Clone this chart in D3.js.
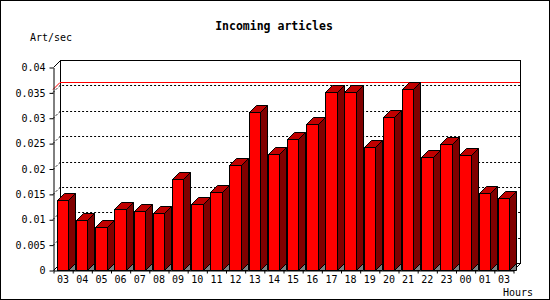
<!DOCTYPE html>
<html lang="en">
<head>
    <meta charset="UTF-8">
    <title>Incoming articles</title>
    <script src="https://cdnjs.cloudflare.com/ajax/libs/d3/7.8.5/d3.min.js"></script>
    <style>
        body { margin: 0; background: #fff; }
        svg { display: block; }
        text { font-family: "DejaVu Sans Mono", monospace; fill: #000; }
    </style>
</head>
<body>
<svg width="550" height="300"></svg>

<script>
    // hour labels as shown on the chart (the last one really reads "03")
    const hours = ["03", "04", "05", "06", "07", "08", "09", "10", "11", "12", "13", "14",
                   "15", "16", "17", "18", "19", "20", "21", "22", "23", "00", "01", "03"];
    // articles per second
    const artPerSec = [0.0137, 0.0098, 0.0084, 0.0120, 0.0117, 0.0112, 0.0180, 0.0131,
                       0.0153, 0.0206, 0.0311, 0.0228, 0.0259, 0.0287, 0.0350, 0.0350,
                       0.0242, 0.0301, 0.0356, 0.0222, 0.0249, 0.0226, 0.0151, 0.0141];
    const yTicks = [0, 0.005, 0.01, 0.015, 0.02, 0.025, 0.03, 0.035, 0.04];
    const gridTicks = [0.005, 0.01, 0.015, 0.02, 0.025, 0.03, 0.035];

    const svg = d3.select("svg");
    const depth = 7; // 3d offset, same in x and y

    const x0 = 53, x1 = 513, yBottom = 270, yTop = 67;

    const x = d3.scaleBand()
        .domain(d3.range(hours.length))
        .range([x0, x1])
        .paddingInner(0.4)
        .paddingOuter(0.2);

    const xEdges = d3.scaleLinear().domain([0, hours.length]).range([x0, x1]);

    const y = d3.scaleLinear().domain([0, 0.04]).range([yBottom, yTop]);

    // outer border
    svg.append("rect")
        .attr("x", 0.5).attr("y", 0.5)
        .attr("width", 549).attr("height", 299)
        .attr("fill", "none").attr("stroke", "#000");

    // back wall
    const back = svg.append("g").attr("transform", `translate(${depth},${-depth})`);
    back.append("rect")
        .attr("x", x0 + 0.5).attr("y", y(0.04) + 0.5)
        .attr("width", x1 - x0).attr("height", y(0) - y(0.04))
        .attr("fill", "#fff").attr("stroke", "#000");

    // dotted grid lines on the wall, plus the little slants on the left side
    svg.append("g")
        .selectAll("path")
        .data(gridTicks)
        .join("path")
        .attr("d", d => {
            const yy = Math.round(y(d)) + 0.5;
            return `M${x0},${yy}L${x0 + depth},${yy - depth}L${x1 + depth},${yy - depth}`;
        })
        .attr("fill", "none")
        .attr("stroke", "#000")
        .attr("stroke-dasharray", "2,2");

    // red line at the maximum value
    const maxVal = d3.max(artPerSec);
    const ym = Math.round(y(maxVal)) + 0.5;
    svg.append("path")
        .attr("d", `M${x0},${ym}L${x0 + depth},${ym - depth}L${x1 + depth},${ym - depth}`)
        .attr("fill", "none")
        .attr("stroke", "#ff0000");

    // floor edges
    svg.append("path")
        .attr("d", `M${x0 + 0.5},${yTop + 0.5}L${x0 + depth + 0.5},${yTop - depth + 0.5}` +
                   `M${x0 + 0.5},${yBottom + 0.5}L${x0 + depth + 0.5},${yBottom - depth + 0.5}` +
                   `M${x1 + 0.5},${yBottom + 0.5}L${x1 + depth + 0.5},${yBottom - depth + 0.5}`)
        .attr("fill", "none")
        .attr("stroke", "#000");

    // bars
    const bars = svg.append("g")
        .selectAll("g")
        .data(artPerSec)
        .join("g");

    bars.each(function (d, i) {
        const g = d3.select(this);
        const bx0 = Math.round(x(i)) + 0.5;
        const bx1 = Math.round(x(i) + x.bandwidth()) + 0.5;
        const top = Math.round(y(d)) + 0.5;
        const bot = yBottom + 0.5;

        g.append("path") // shadow triangle on the floor
            .attr("d", `M${bx1},${bot}L${bx1 + depth},${bot - depth}L${bx1 + depth},${bot}Z`)
            .attr("fill", "#808080").attr("stroke", "#000");
        g.append("path") // side
            .attr("d", `M${bx1},${top}L${bx1 + depth},${top - depth}L${bx1 + depth},${bot - depth}L${bx1},${bot}Z`)
            .attr("fill", "#800000").attr("stroke", "#000");
        g.append("path") // top
            .attr("d", `M${bx0},${top}L${bx0 + depth},${top - depth}L${bx1 + depth},${top - depth}L${bx1},${top}Z`)
            .attr("fill", "#c00000").attr("stroke", "#000");
        g.append("rect") // front
            .attr("x", bx0).attr("y", top)
            .attr("width", bx1 - bx0).attr("height", bot - top)
            .attr("fill", "#ff0000").attr("stroke", "#000");
    });

    // y axis
    const yAxis = svg.append("g")
        .attr("transform", `translate(${x0 + 0.5},0.5)`)
        .call(d3.axisLeft(y)
            .tickValues(yTicks)
            .tickSize(4)
            .tickPadding(4)
            .tickSizeOuter(0)
            .tickFormat(d => d === 0 ? "0" : d3.format(".3~f")(d)));
    yAxis.select(".domain").attr("stroke", "#000");
    yAxis.selectAll("line").attr("stroke", "#000");
    yAxis.selectAll("text").attr("font-size", 10).attr("font-family", "DejaVu Sans Mono");

    // x axis: tick marks on category edges, labels in the middle
    const xTicks = svg.append("g")
        .attr("transform", `translate(0.5,${yBottom + 0.5})`)
        .call(d3.axisBottom(xEdges)
            .tickValues(d3.range(hours.length + 1))
            .tickSize(3)
            .tickSizeOuter(0)
            .tickFormat(""));
    xTicks.select(".domain").attr("stroke", "#000");
    xTicks.selectAll("line").attr("stroke", "#000");

    const xLabels = svg.append("g")
        .attr("transform", `translate(0.5,${yBottom})`)
        .call(d3.axisBottom(x)
            .tickSize(0)
            .tickPadding(6)
            .tickFormat(i => hours[i]));
    xLabels.select(".domain").remove();
    xLabels.selectAll("text").attr("font-size", 10).attr("font-family", "DejaVu Sans Mono");

    // titles
    svg.append("text")
        .attr("x", 274).attr("y", 30)
        .attr("text-anchor", "middle")
        .attr("font-size", 11.5)
        .attr("font-weight", "bold")
        .text("Incoming articles");

    svg.append("text")
        .attr("x", 30).attr("y", 41)
        .attr("font-size", 10)
        .text("Art/sec");

    svg.append("text")
        .attr("x", 533).attr("y", 296)
        .attr("text-anchor", "end")
        .attr("font-size", 10)
        .text("Hours");
</script>
</body>
</html>
